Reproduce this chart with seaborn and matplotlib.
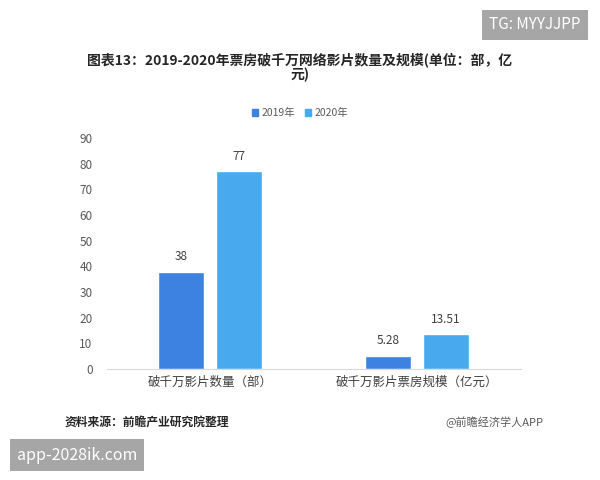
import pandas as pd
import seaborn as sns
import matplotlib.pyplot as plt
from matplotlib.patches import Patch

categories = ["破千万影片数量（部）", "破千万影片票房规模（亿元）"]
years = ["2019年", "2020年"]
values_2019 = [38, 5.28]
values_2020 = [77, 13.51]
labels_2019 = ["38", "5.28"]
labels_2020 = ["77", "13.51"]
yticks = [0, 10, 20, 30, 40, 50, 60, 70, 80, 90]

df = pd.DataFrame({
    "cat": categories * 2,
    "year": [years[0]] * 2 + [years[1]] * 2,
    "val": values_2019 + values_2020,
})

sns.set_style("white")
plt.rcParams['font.family'] = ['Noto Sans CJK SC', 'DejaVu Sans']

fig = plt.figure(figsize=(6, 4.8), dpi=100)
ax = fig.add_axes([0.1775, 0.231, 0.69, 0.4815])

palette = {"2019年": "#3d82e0", "2020年": "#48a9ee"}
sns.barplot(data=df, x="cat", y="val", hue="year", palette=palette,
            width=0.564, gap=0.21, ax=ax, legend=False, saturation=1)

# value labels
for cont, labs in zip(ax.containers, [labels_2019, labels_2020]):
    ax.bar_label(cont, labels=labs, padding=6, fontsize=8.5, color="#404040")

ax.set_ylim(0, 90)
ax.set_xlim(-0.5, 1.5)
ax.set_yticks(yticks)
ax.tick_params(axis='y', labelsize=8.5, labelcolor="#595959", length=0, pad=10)
ax.tick_params(axis='x', labelsize=9, labelcolor="#404040", length=0, pad=5)
ax.set_xlabel('')
ax.set_ylabel('')
for s in ['top', 'right', 'left']:
    ax.spines[s].set_visible(False)
ax.spines['bottom'].set_color("#d9d9d9")

# legend
handles = [Patch(color=palette[y]) for y in years]
fig.legend(handles, years, loc='center', bbox_to_anchor=(0.5, 0.764), ncol=2,
           frameon=False, fontsize=7.5, handlelength=0.6, handleheight=0.6,
           handletextpad=0.3, columnspacing=1.0, labelcolor="#595959")

fig.text(0.5, 0.86, "图表13：2019-2020年票房破千万网络影片数量及规模(单位：部，亿\n元)",
         ha='center', va='center', fontsize=10, fontweight='bold',
         color="#262626", linespacing=1.1)

fig.text(0.108, 0.121, "资料来源：前瞻产业研究院整理", ha='left', va='center',
         fontsize=8.5, fontweight='bold', color="#262626")
fig.text(0.905, 0.121, "@前瞻经济学人APP", ha='right', va='center',
         fontsize=8, color="#595959")

# watermark boxes
fig.text(0.968, 0.948, "TG: MYYJJPP", ha='right', va='center', fontsize=11,
         color="white", bbox=dict(boxstyle='square,pad=0.45', fc="#a6a6a6", ec='none'))
fig.text(0.028, 0.052, "app-2028ik.com", ha='left', va='center', fontsize=11.5,
         color="white", bbox=dict(boxstyle='square,pad=0.45', fc="#a6a6a6", ec='none'))

fig.savefig("out.png", dpi=100)
